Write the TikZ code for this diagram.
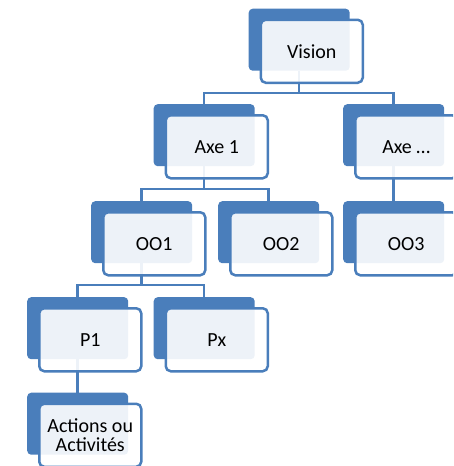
\documentclass[tikz,border=0pt]{standalone}
\usepackage{fontspec}
\setmainfont{Carlito}
\definecolor{accent}{HTML}{4A7EBB}
\pgfdeclarelayer{bg}
\pgfsetlayers{bg,main}
\tikzset{
  backbox/.style={fill=accent, rounded corners=4pt, minimum width=101pt, minimum height=62pt, inner sep=0pt, anchor=north west},
  frontbox/.style={draw=accent, line width=2.5pt, fill=white, fill opacity=0.9, text opacity=1, rounded corners=5pt, minimum width=102pt, minimum height=63pt, inner sep=0pt, anchor=north west, font=\fontsize{20}{19}\selectfont, align=center, text=black},
  conn/.style={draw=accent, line width=2.5pt}
}
\newcommand\smartitem[4]{%
  \node[backbox] (#1b) at (#2,#3) {};
  \node[frontbox] (#1) at ([shift={(11,10)}]#1b.north west) {#4};
}
\begin{document}
\begin{tikzpicture}[x=1pt,y=-1pt]
\useasboundingbox (0,0) rectangle (453,466);
\clip (0,0) rectangle (453,466);
\smartitem{vision}{248.5}{8.5}{Vision}
\smartitem{axeA}{153.5}{104}{Axe 1}
\smartitem{axeX}{343}{104}{Axe …}
\smartitem{ooA}{91}{201}{OO1}
\smartitem{ooB}{218}{201}{OO2}
\smartitem{ooC}{343}{201}{OO3}
\smartitem{pA}{27}{297}{P1}
\smartitem{pX}{153.5}{297}{Px}
\smartitem{act}{27}{392.5}{Actions ou\\Activités}
\coordinate (h0) at (0,93);
\coordinate (h1) at (0,189);
\coordinate (h2) at (0,285);
\begin{pgfonlayer}{bg}
\draw[conn] (visionb.south) -- (visionb.south |- h0);
\draw[conn] (axeAb.north) |- (axeXb.north |- h0) -- (axeXb.north);
\draw[conn] (axeAb.south) -- (axeAb.south |- h1);
\draw[conn] (ooAb.north) |- (ooBb.north |- h1) -- (ooBb.north);
\draw[conn] (axeXb.south) -- (ooCb.north);
\draw[conn] (ooAb.south) -- (ooAb.south |- h2);
\draw[conn] (pAb.north) |- (pXb.north |- h2) -- (pXb.north);
\draw[conn] (pAb.south) -- (actb.north);
\end{pgfonlayer}
\end{tikzpicture}
\end{document}
